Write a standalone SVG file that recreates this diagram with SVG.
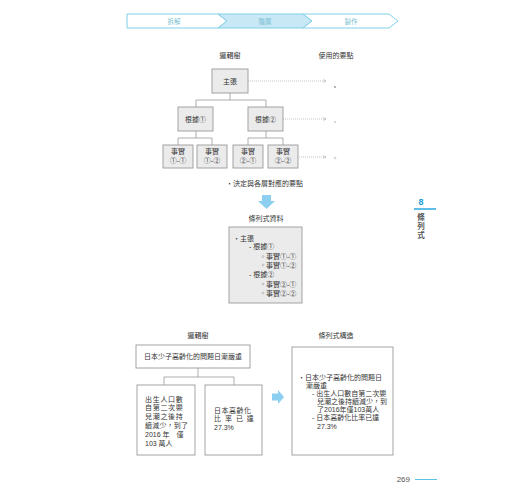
<svg xmlns="http://www.w3.org/2000/svg" width="520" height="500" viewBox="0 0 520 500">
<style>
text{font-family:"Liberation Sans","Noto Sans CJK TC",sans-serif;fill:#333;}
.t{font-size:7px;}
.c{text-anchor:middle;}
.step{fill:#fff;stroke:#7fd0e8;stroke-width:1;}
.stepOn{fill:#c9e8f6;stroke:#7fd0e8;stroke-width:1;}
.stepT{font-size:6.5px;fill:#7bbfd2;text-anchor:middle;}
.node{fill:#ebebeb;stroke:#9a9a9a;stroke-width:0.9;}
.wbox{fill:#fff;stroke:#9a9a9a;stroke-width:0.9;}
.ln{fill:none;stroke:#999;stroke-width:0.8;}
.dot{fill:none;stroke:#aaa;stroke-width:0.7;stroke-dasharray:1 1;}
.blue{fill:#8ccff0;}
.b{fill:none;stroke:#999;stroke-width:0.5;}
</style>
<defs>
<marker id="ah" markerWidth="4" markerHeight="4" refX="3" refY="2" orient="auto" markerUnits="userSpaceOnUse">
<path d="M0,0.5 L3,2 L0,3.5" fill="none" stroke="#aaa" stroke-width="0.6"/>
</marker>
</defs>

<g id="steps">
<polygon class="step" points="127,14 218,14 227,21 218,28 127,28"/>
<polygon class="stepOn" points="218,14 303,14 312,21 303,28 218,28 227,21"/>
<polygon class="step" points="303,14 389,14 398,21 389,28 303,28 312,21"/>
<text class="stepT" x="174" y="23.5">拆解</text>
<text class="stepT" x="265" y="23.5">階層</text>
<text class="stepT" x="351" y="23.5">製作</text>
</g>

<text class="t c" x="230" y="58">邏輯樹</text>
<text class="t c" x="336" y="58">使用的要點</text>

<g id="connectors">
<path class="ln" d="M230,93 V100 M196,100 H266 M196,100 V107 M266,100 V107"/>
<path class="ln" d="M196,131 V138 M178,138 H212 M178,138 V145 M212,138 V145"/>
<path class="ln" d="M266,131 V138 M248,138 H283 M248,138 V145 M283,138 V145"/>
<line class="dot" x1="248" y1="81" x2="326" y2="81" marker-end="url(#ah)"/>
<line class="dot" x1="283" y1="119" x2="326" y2="119" marker-end="url(#ah)"/>
<line class="dot" x1="297" y1="157" x2="326" y2="157" marker-end="url(#ah)"/>
<path class="ln" d="M198,368 V377 M164,377 H234 M164,377 V385 M234,377 V385"/>
</g>

<g id="n-claim"><rect class="node" x="212" y="69" width="36" height="24"/><text class="t c" x="230" y="83.5">主張</text></g>
<g id="n-r1"><rect class="node" x="178" y="107" width="35" height="24"/><text class="t c" x="195.5" y="121.5">根據①</text></g>
<g id="n-r2"><rect class="node" x="248" y="107" width="35" height="24"/><text class="t c" x="265.5" y="121.5">根據②</text></g>
<g id="n-f11"><rect class="node" x="163" y="145" width="30" height="23"/><text class="t c" x="178" y="154">事實</text><text class="t c" x="178" y="163">①-①</text></g>
<g id="n-f12"><rect class="node" x="197" y="145" width="30" height="23"/><text class="t c" x="212" y="154">事實</text><text class="t c" x="212" y="163">①-②</text></g>
<g id="n-f21"><rect class="node" x="233" y="145" width="30" height="23"/><text class="t c" x="248" y="154">事實</text><text class="t c" x="248" y="163">②-①</text></g>
<g id="n-f22"><rect class="node" x="268" y="145" width="30" height="23"/><text class="t c" x="283" y="154">事實</text><text class="t c" x="283" y="163">②-②</text></g>

<g id="points">
<circle cx="335" cy="87" r="0.7" fill="#333"/>
<line x1="334" y1="122" x2="336" y2="122" stroke="#777" stroke-width="0.6"/>
<circle cx="335" cy="158" r="1" fill="none" stroke="#aaa" stroke-width="0.5"/>
</g>

<text class="t" x="226" y="185.5">・決定與各層對應的要點</text>

<polygon class="blue" points="262,195 271,195 271,201 275,201 266.5,209 258,201 262,201"/>

<text class="t c" x="266" y="220.5">條列式資料</text>
<g id="list1">
<rect class="node" x="229" y="227" width="73" height="76"/>
<text class="t" x="233" y="240.5">・主張</text>
<text class="t" x="249" y="249">-  根據①</text>
<circle class="b" cx="263" cy="256.5" r="1"/>
<text class="t" x="266" y="259">事實①-①</text>
<circle class="b" cx="263" cy="265" r="1"/>
<text class="t" x="266" y="267.5">事實①-②</text>
<text class="t" x="249" y="277">-  根據②</text>
<circle class="b" cx="263" cy="284" r="1"/>
<text class="t" x="266" y="286.5">事實②-①</text>
<circle class="b" cx="263" cy="293" r="1"/>
<text class="t" x="266" y="295.5">事實②-②</text>
</g>

<g id="tab">
<text x="421" y="205" style="font-size:9px;fill:#1a9ad6;font-weight:bold;text-anchor:middle">8</text>
<line x1="414" y1="209" x2="436" y2="209" stroke="#2aa7e0" stroke-width="1.5"/>
<text x="421" y="220" style="font-size:7.5px;font-weight:bold;fill:#555;text-anchor:middle">條</text>
<text x="421" y="229" style="font-size:7.5px;font-weight:bold;fill:#555;text-anchor:middle">列</text>
<text x="421" y="238" style="font-size:7.5px;font-weight:bold;fill:#555;text-anchor:middle">式</text>
</g>

<text class="t c" x="198" y="337.5">邏輯樹</text>
<text class="t c" x="336" y="337.5">條列式構造</text>

<g id="n-top"><rect class="wbox" x="136" y="345" width="114" height="23"/><text class="t c" x="193" y="359">日本少子高齡化的問題日漸嚴重</text></g>
<g id="n-left"><rect class="wbox" x="137" y="385" width="58" height="70"/>
<text class="t" x="145" y="401.5" letter-spacing="0.7">出生人口數</text>
<text class="t" x="145" y="410" letter-spacing="0.7">自第二次嬰</text>
<text class="t" x="145" y="419" letter-spacing="0.7">兒潮之後持</text>
<text class="t" x="145" y="428" letter-spacing="0.2">續減少，到了</text>
<text class="t" x="145" y="436.5">2016 年　僅</text>
<text class="t" x="145" y="445.5">103 萬人</text>
</g>
<g id="n-right"><rect class="wbox" x="205" y="385" width="57" height="70"/>
<text class="t" x="214" y="412.5" letter-spacing="0.5">日本高齡化</text>
<text class="t" x="214" y="421" letter-spacing="0.5" word-spacing="1">比 率 已 達</text>
<text class="t" x="214" y="430">27.3%</text>
</g>

<polygon class="blue" points="272,393.5 278,393.5 278,390 284,397 278,404 278,400.5 272,400.5"/>

<g id="list2"><rect class="wbox" x="292" y="347" width="101" height="108"/>
<text class="t" x="298" y="379.5">・日本少子高齡化的問題日</text>
<text class="t" x="306" y="387.5">漸嚴重</text>
<text class="t" x="312" y="395.5">- 出生人口數自第二次嬰</text>
<text class="t" x="317" y="403.5">兒潮之後持續減少，到</text>
<text class="t" x="317" y="411.5">了2016年僅103萬人</text>
<text class="t" x="312" y="420">- 日本高齡化比率已達</text>
<text class="t" x="317" y="428.5">27.3%</text>
</g>

<text x="410" y="482" style="font-size:8px;fill:#555;text-anchor:end">269</text>
<line x1="415" y1="479.5" x2="437" y2="479.5" stroke="#5bc4e6" stroke-width="1"/>
</svg>
